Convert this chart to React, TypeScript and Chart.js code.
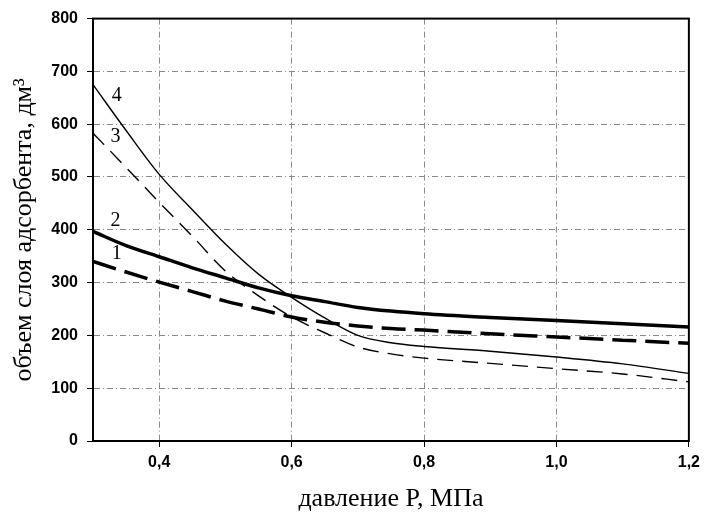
import React, { useEffect, useRef } from "react";
import { Chart, registerables } from "chart.js";

Chart.register(...registerables);

// Pressure P, MPa
const pressure = [0.3, 0.35, 0.4, 0.45, 0.5, 0.55, 0.6, 0.65, 0.7, 0.75, 0.8, 0.9, 1.0, 1.1, 1.2];
// adsorbent bed volume, dm3
const curve1 = [340, 320, 301, 283, 265, 250, 235, 225, 218, 213, 210, 203, 197, 191, 185];
const curve2 = [397, 370, 349, 328, 309, 290, 275, 264, 253, 246, 241, 234, 228, 222, 216];
const curve3 = [583, 518, 452, 388, 322, 275, 235, 205, 178, 165, 157, 147, 137, 127, 112];
const curve4 = [675, 588, 505, 438, 373, 316, 272, 233, 200, 186, 179, 170, 159, 146, 128];

const xTicks = [0.4, 0.6, 0.8, 1.0, 1.2];
const yTicks = [0, 100, 200, 300, 400, 500, 600, 700, 800];

const curveNames = ["1", "2", "3", "4"];
const labelP = [0.336, 0.334, 0.334, 0.336];
const labelV = [355, 417, 577, 653];

const xTitle = "давление P, МПа";
const yTitle = "объем слоя адсорбента, дм³";

export default function App() {
  const ref = useRef<HTMLCanvasElement>(null);
  useEffect(() => {
    document.body.style.margin = "0";
    const canvas = ref.current!;
    const series = [curve1, curve2, curve3, curve4];
    const styles = [
      { w: 3.5, dash: [24, 9] },
      { w: 3.5, dash: [] as number[] },
      { w: 1.4, dash: [16, 9] },
      { w: 1.4, dash: [] as number[] },
    ];
    const frame = {
      id: "frame",
      afterDraw(chart: any) {
        const { ctx, chartArea: a } = chart;
        ctx.save();
        ctx.strokeStyle = "#000";
        ctx.lineWidth = 2;
        ctx.setLineDash([]);
        ctx.strokeRect(a.left, a.top, a.right - a.left, a.bottom - a.top);
        ctx.restore();
      },
    };
    const numbers = {
      id: "numbers",
      afterDatasetsDraw(chart: any) {
        const { ctx } = chart;
        const xs = chart.scales.x;
        const ys = chart.scales.y;
        ctx.save();
        ctx.fillStyle = "#000";
        ctx.font = "20px 'Liberation Serif'";
        ctx.textAlign = "center";
        ctx.textBaseline = "middle";
        curveNames.forEach((n, i) => {
          ctx.fillText(n, xs.getPixelForValue(labelP[i]), ys.getPixelForValue(labelV[i]));
        });
        ctx.restore();
      },
    };
    const gridStyle = {
      color: "#8a8a8a",
      lineWidth: 1,
      tickColor: "#000",
      tickBorderDash: [],
      tickLength: 6,
    };
    const borderStyle = { color: "#000", width: 2, dash: [6, 3, 1, 3] };
    const tickFont = { family: "'Liberation Sans'", size: 16, weight: "bold" as const };
    const titleFont = { family: "'Liberation Serif'", size: 26, lineHeight: 1 };
    const chart = new Chart(canvas, {
      type: "line",
      data: {
        datasets: series.map((s, i) => ({
          label: curveNames[i],
          data: s.map((v, j) => ({ x: pressure[j], y: v })),
          borderColor: "#000",
          borderWidth: styles[i].w,
          borderDash: styles[i].dash,
          pointRadius: 0,
          fill: false,
          cubicInterpolationMode: "monotone" as const,
        })),
      },
      options: {
        animation: false,
        responsive: false,
        layout: { padding: { top: 17, right: 14, left: 0, bottom: 0 } },
        plugins: { legend: { display: false }, tooltip: { enabled: false } },
        scales: {
          x: {
            type: "linear",
            min: 0.3,
            max: 1.2,
            afterBuildTicks: (s: any) => {
              s.ticks = xTicks.map((v) => ({ value: v }));
            },
            afterFit: (s: any) => {
              s.height = 71;
            },
            grid: gridStyle,
            border: borderStyle,
            ticks: {
              color: "#000",
              padding: 6,
              maxRotation: 0,
              font: tickFont,
              callback: (v: any) => Number(v).toFixed(1).replace(".", ","),
            },
            title: {
              display: true,
              text: xTitle,
              color: "#000",
              font: titleFont,
              padding: { top: 0, bottom: 0 },
            },
          },
          y: {
            min: 0,
            max: 800,
            afterBuildTicks: (s: any) => {
              s.ticks = yTicks.map((v) => ({ value: v }));
            },
            afterFit: (s: any) => {
              s.width = 93;
            },
            grid: gridStyle,
            border: borderStyle,
            ticks: {
              color: "#000",
              padding: 9,
              font: tickFont,
            },
            title: {
              display: true,
              text: yTitle,
              color: "#000",
              font: titleFont,
              padding: { top: 11, bottom: 0 },
            },
          },
        },
      },
      plugins: [frame, numbers],
    });
    return () => chart.destroy();
  }, []);
  return <canvas ref={ref} width={706} height={512} style={{ display: "block" }} />;
}
